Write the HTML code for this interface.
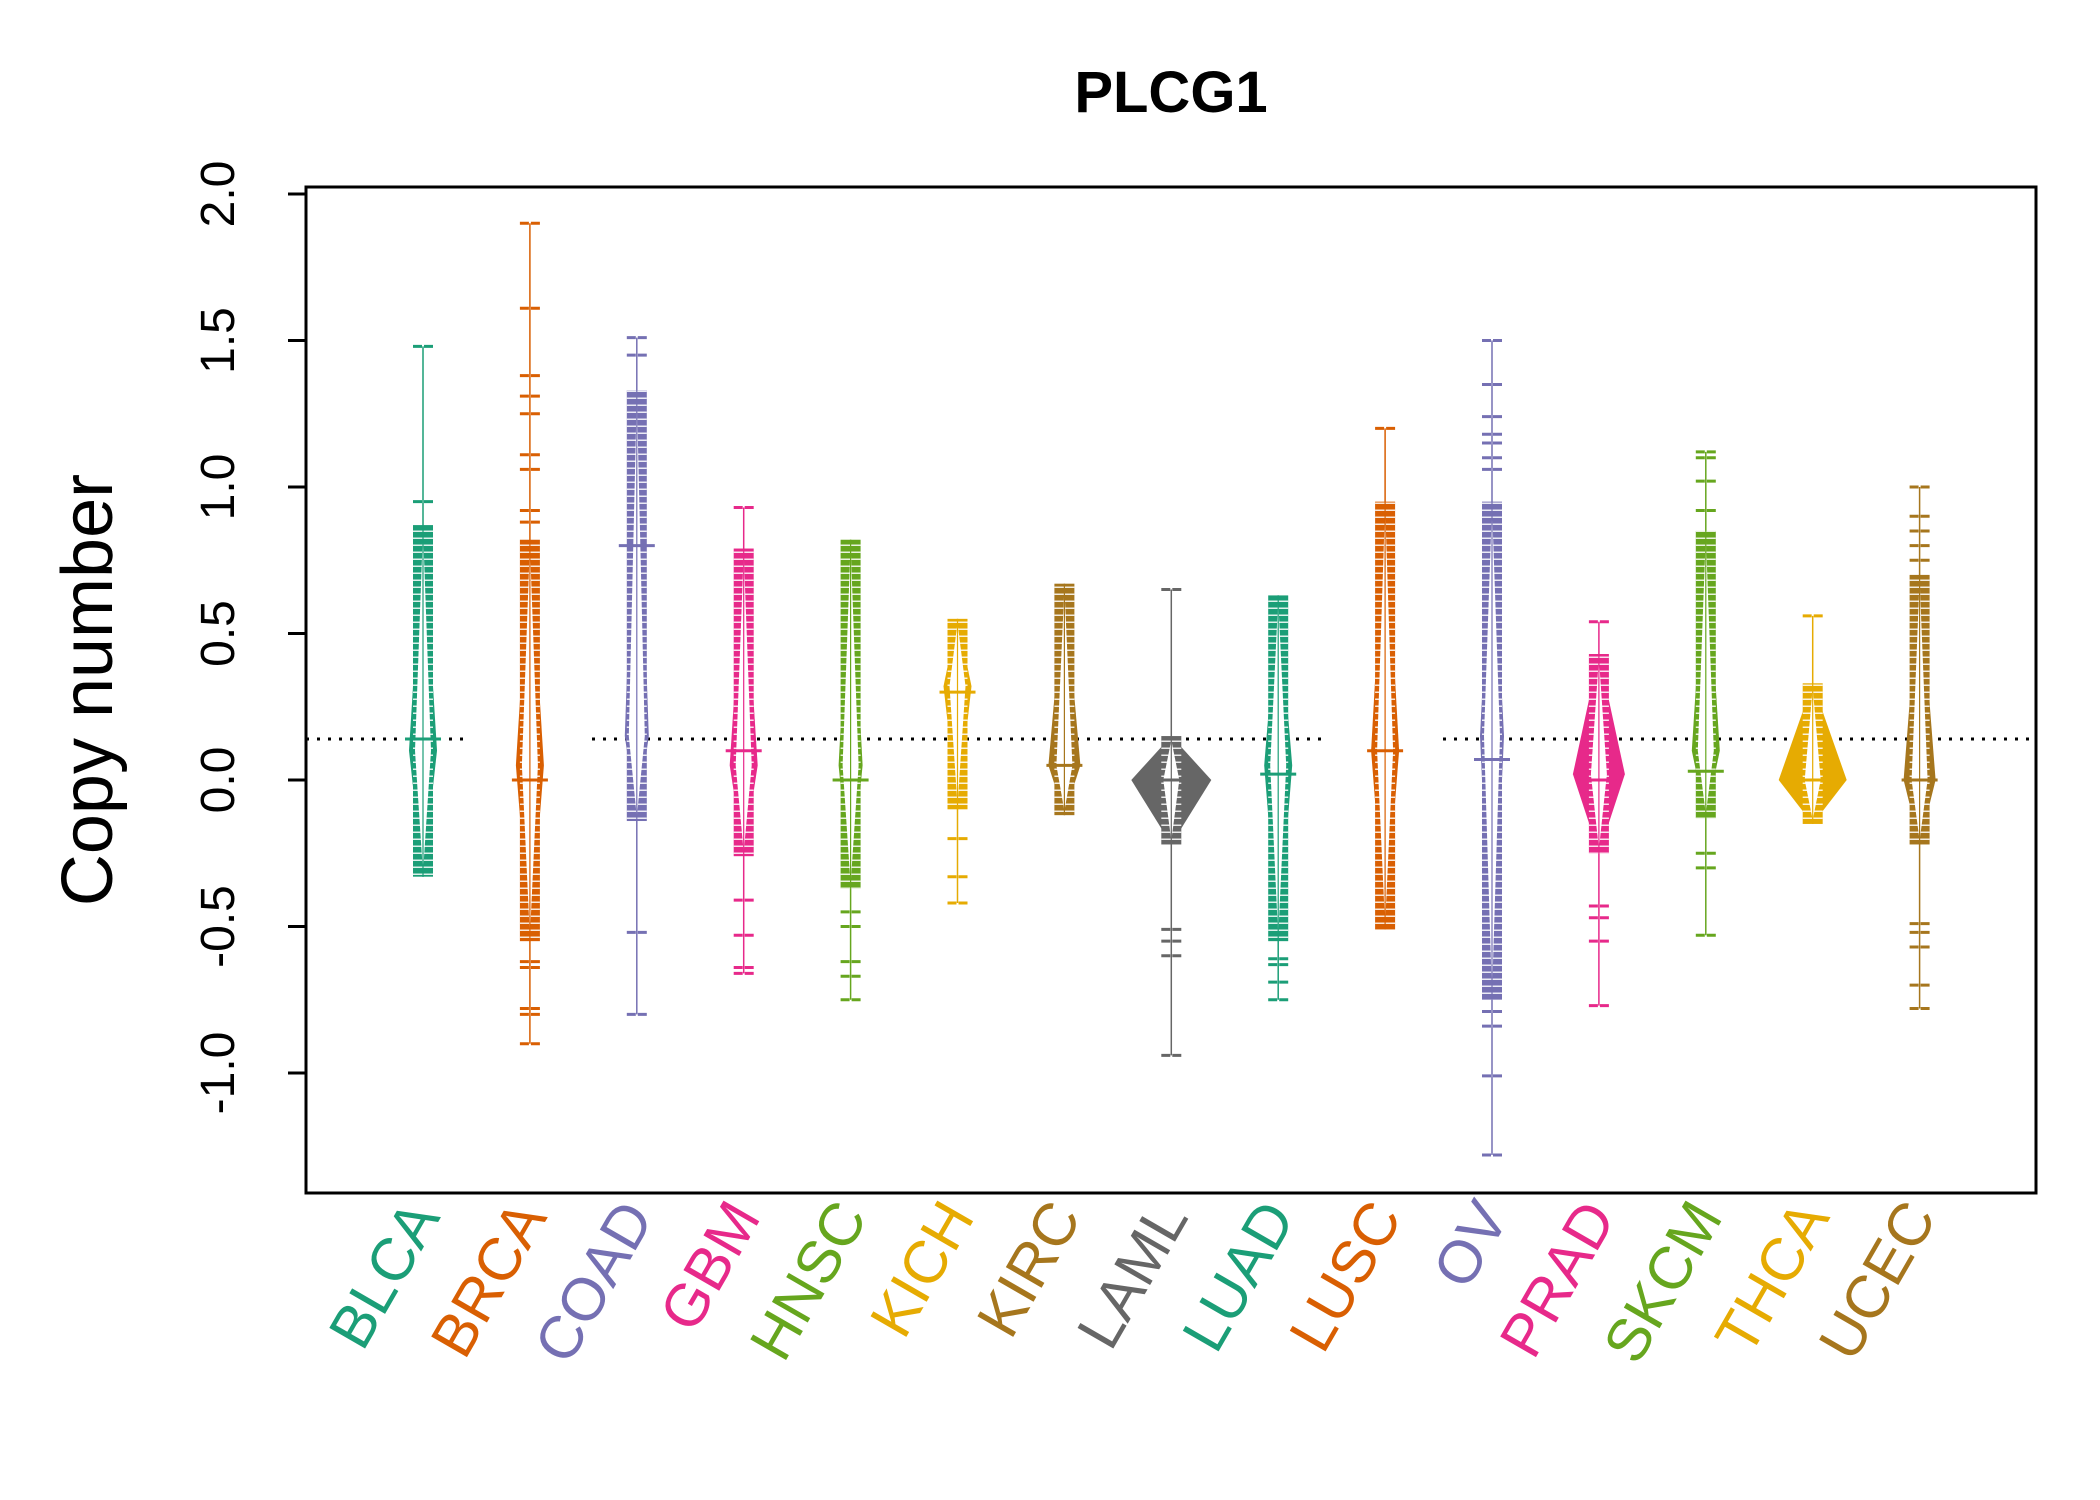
<!DOCTYPE html>
<html><head><meta charset="utf-8"><style>
html,body{margin:0;padding:0;background:#fff;}
svg{display:block;font-family:"Liberation Sans",sans-serif;}
</style></head><body>
<svg id="chart" width="2100" height="1500" viewBox="0 0 2100 1500">
<defs>
<pattern id="stripes" width="20" height="7" patternUnits="userSpaceOnUse">
<rect x="0" y="5.5" width="20" height="1.5" fill="#fff" fill-opacity="0.85"/>
</pattern>
</defs>
<rect width="2100" height="1500" fill="#fff"/>
<text x="1171" y="112" font-size="58" font-weight="bold" text-anchor="middle">PLCG1</text>
<text transform="translate(112,690) rotate(-90)" font-size="72" text-anchor="middle">Copy number</text>
<g id="plot"></g>
</svg>
<script>
const categories = ["BLCA","BRCA","COAD","GBM","HNSC","KICH","KIRC","LAML","LUAD","LUSC","OV","PRAD","SKCM","THCA","UCEC"];
const colors = ["#1B9E77","#D95F02","#7570B3","#E7298A","#66A61E","#E6AB02","#A6761D","#666666","#1B9E77","#D95F02","#7570B3","#E7298A","#66A61E","#E6AB02","#A6761D"];
const denseHi = [0.87,0.82,1.33,0.79,0.82,0.55,0.67,0.15,0.63,0.95,0.95,0.43,0.85,0.33,0.70];
const denseLo = [-0.33,-0.55,-0.14,-0.26,-0.37,-0.10,-0.12,-0.22,-0.55,-0.51,-0.75,-0.25,-0.13,-0.15,-0.22];
const peakVal = [0.10,0.05,0.15,0.05,0.05,0.32,0.05,0.0,0.05,0.10,0.15,0.02,0.10,0.0,0.0];
const peakWidth = [14,14,12,14,12,14,16,40,14,14,12,26,14,34,16];
const medians = [0.14,0.0,0.8,0.1,0.0,0.3,0.05,0.0,0.02,0.1,0.07,0.0,0.03,0.0,0.0];
const outliers = [
 [1.48,0.95],
 [1.9,1.61,1.38,1.31,1.25,1.11,1.06,0.92,0.88,-0.62,-0.64,-0.78,-0.80,-0.90],
 [1.51,1.45,-0.52,-0.80],
 [0.93,-0.41,-0.53,-0.64,-0.66],
 [-0.45,-0.50,-0.62,-0.67,-0.75],
 [-0.20,-0.33,-0.42],
 [],
 [0.65,-0.51,-0.55,-0.60,-0.94],
 [-0.61,-0.63,-0.69,-0.75],
 [1.2],
 [1.5,1.35,1.24,1.18,1.15,1.10,1.06,-0.79,-0.84,-1.01,-1.28],
 [0.54,-0.43,-0.47,-0.55,-0.77],
 [1.12,1.10,1.02,0.92,-0.25,-0.30,-0.53],
 [0.56],
 [1.0,0.9,0.85,0.80,0.75,-0.49,-0.52,-0.57,-0.70,-0.78]
];
const yTicks = [-1.0,-0.5,0.0,0.5,1.0,1.5,2.0];
const yTickLabels = ["-1.0","-0.5","0.0","0.5","1.0","1.5","2.0"];
const refLine = 0.14;

const NS = "http://www.w3.org/2000/svg";
const plot = document.getElementById("plot");
const L=306, R=2036, T=187, B=1193;
function y(v){ return 780 - 293*v; }
function x(i){ return 423 + i*106.9; }
function mk(tag, attrs, parent){ const e=document.createElementNS(NS,tag); for(const k in attrs) e.setAttribute(k,attrs[k]); (parent||plot).appendChild(e); return e; }

[[306,471],[592,1324],[1443,2036]].forEach(s=>{
  const l = mk("line",{x1:s[0],x2:s[1],y1:y(refLine),y2:y(refLine),stroke:"#000","stroke-width":3,"stroke-dasharray":"3 8"});
  
  
});

categories.forEach((c,i)=>{
  const cx=x(i), col=colors[i];
  const g = mk("g",{});
  
  
  const all = outliers[i].concat([denseHi[i],denseLo[i]]);
  const mx = Math.max(...all), mn = Math.min(...all);
  const w = mk("line",{x1:cx,x2:cx,y1:y(mx),y2:y(mn),stroke:col,"stroke-width":1.5},g);
  
  
  const hi=denseHi[i], lo=denseLo[i], pv=peakVal[i], pw=peakWidth[i];
  const pts = [[cx,y(hi)],[cx+pw,y(pv)],[cx,y(lo)],[cx-pw,y(pv)]];
  const v = mk("polygon",{points:pts.map(p=>p.join(",")).join(" "),fill:col},g);
  
  
  const colr = mk("rect",{x:cx-10,y:y(hi),width:20,height:y(lo)-y(hi),fill:col},g);
  
  
  const str = mk("rect",{x:cx-10,y:y(hi),width:20,height:y(lo)-y(hi),fill:"url(#stripes)"},g);
  
  
  const iw = Math.min(pw*0.8,8);
  const pts2 = [[cx,y(hi)+4],[cx+iw,y(pv)],[cx,y(lo)-4],[cx-iw,y(pv)]];
  const wi = mk("polygon",{points:pts2.map(p=>p.join(",")).join(" "),fill:"#fff"},g);
  
  
  const cross = mk("line",{x1:cx,x2:cx,y1:y(hi),y2:y(lo),stroke:col,"stroke-width":1.2},g);
  
  
  const md = mk("line",{x1:cx-18,x2:cx+18,y1:y(medians[i]),y2:y(medians[i]),stroke:col,"stroke-width":3},g);
  
  
  outliers[i].forEach(o=>{
    const d = mk("line",{x1:cx-10,x2:cx+10,y1:y(o),y2:y(o),stroke:col,"stroke-width":3,"stroke-dasharray":"9 2 9"},g);
    
    
  });
  const t = mk("text",{transform:`translate(${cx+18},${B+24}) rotate(-60)`,"text-anchor":"end","font-size":60,fill:col});
  t.textContent=c;
  
  
});

yTicks.forEach((tv,k)=>{
  const tl = mk("line",{x1:L-18,x2:L,y1:y(tv),y2:y(tv),stroke:"#000","stroke-width":3});
  
  
  const tx = mk("text",{transform:`translate(${L-72},${y(tv)}) rotate(-90)`,"text-anchor":"middle","font-size":48});
  tx.textContent = yTickLabels[k];
  
  
});
const ax = mk("line",{x1:L,x2:L,y1:y(2.0),y2:y(-1.0),stroke:"#000","stroke-width":3});


const box = mk("rect",{x:L,y:T,width:R-L,height:B-T,fill:"none",stroke:"#000","stroke-width":3});


</script>
</body></html>
